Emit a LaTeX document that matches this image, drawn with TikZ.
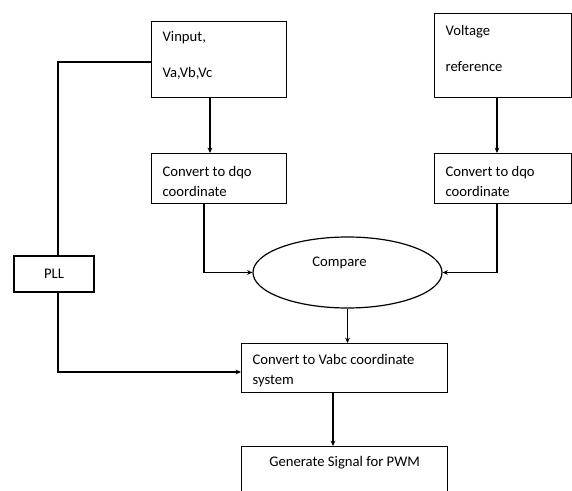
\documentclass[tikz,border=0pt]{standalone}
\usepackage{fontspec}
\setmainfont{Carlito}
\usetikzlibrary{shapes.geometric,arrows.meta}
\newlength\px
\setlength\px{0.75pt}
\newcommand\boxtxt[5]{\parbox[t][#2\px][t]{#1\px}{\raggedright\leftskip=#3\px\rule{0pt}{#4\px}#5}}
\tikzset{
  blk/.style={draw, line width=0.9pt, inner sep=0pt, anchor=north west},
  arr/.style={-{Stealth[length=4pt,width=3.6pt]}},
  con/.style={line width=0.9pt}
}
\begin{document}
\begin{tikzpicture}[x=0.75pt,y=-0.75pt,font=\fontsize{11pt}{15pt}\selectfont]
\useasboundingbox (0,0) rectangle (572,491);
\clip (0,0) rectangle (572,491);
\fill[white] (0,0) rectangle (572,491);
\node[blk] (A) at (151,21) {\boxtxt{135}{76}{11}{20}{Vinput,\\[16\px]Va,Vb,Vc}};
\node[blk] (B) at (434,13) {\boxtxt{137}{84}{11}{22}{Voltage\\[16\px]reference}};
\node[blk] (C) at (151,153) {\boxtxt{135}{50}{11}{23}{Convert to dqo\\coordinate}};
\node[blk] (D) at (434,153) {\boxtxt{137}{50}{11}{23}{Convert to dqo\\coordinate}};
\node[blk] (E) at (241,343) {\boxtxt{206}{49}{11}{21}{Convert to Vabc coordinate\\system}};
\node[blk] (F) at (241,446) {\boxtxt{206}{70}{0}{20}{\centering Generate Signal for PWM}};
\node[draw, line width=0.9pt, minimum width=80\px, minimum height=36\px, inner sep=0pt] (PLL) at (54,274) {PLL};
\node[draw, line width=0.9pt, ellipse, minimum width=189\px, minimum height=71\px, inner sep=0pt] (cmp) at (347.5,272.5)
  {\makebox[0pt]{\raisebox{5.5\px}[0pt][0pt]{Compare}\hspace*{16\px}}};
\coordinate (k1) at (58,62);
\coordinate (k2) at (58,372);
\coordinate (xa) at (210,0);
\coordinate (xc) at (204,0);
\coordinate (xb) at (497,0);
\coordinate (xe) at (333,0);
\draw[con] (A.west |- k1) -- (k1) -- (k1 |- PLL.north);
\draw[con,arr] (A.south -| xa) -- (C.north -| xa);
\draw[con,arr] (C.south -| xc) |- (cmp.west);
\draw[con,arr] (B.south -| xb) -- (D.north -| xb);
\draw[con,arr] (D.south -| xb) |- (cmp.east);
\draw[con,arr] (cmp.south) -- (E.north -| cmp.south);
\draw[con,arr] (PLL.south -| k1) -- (k2) -- (E.west |- k2);
\draw[con,arr] (E.south -| xe) -- (F.north -| xe);
\end{tikzpicture}
\end{document}
